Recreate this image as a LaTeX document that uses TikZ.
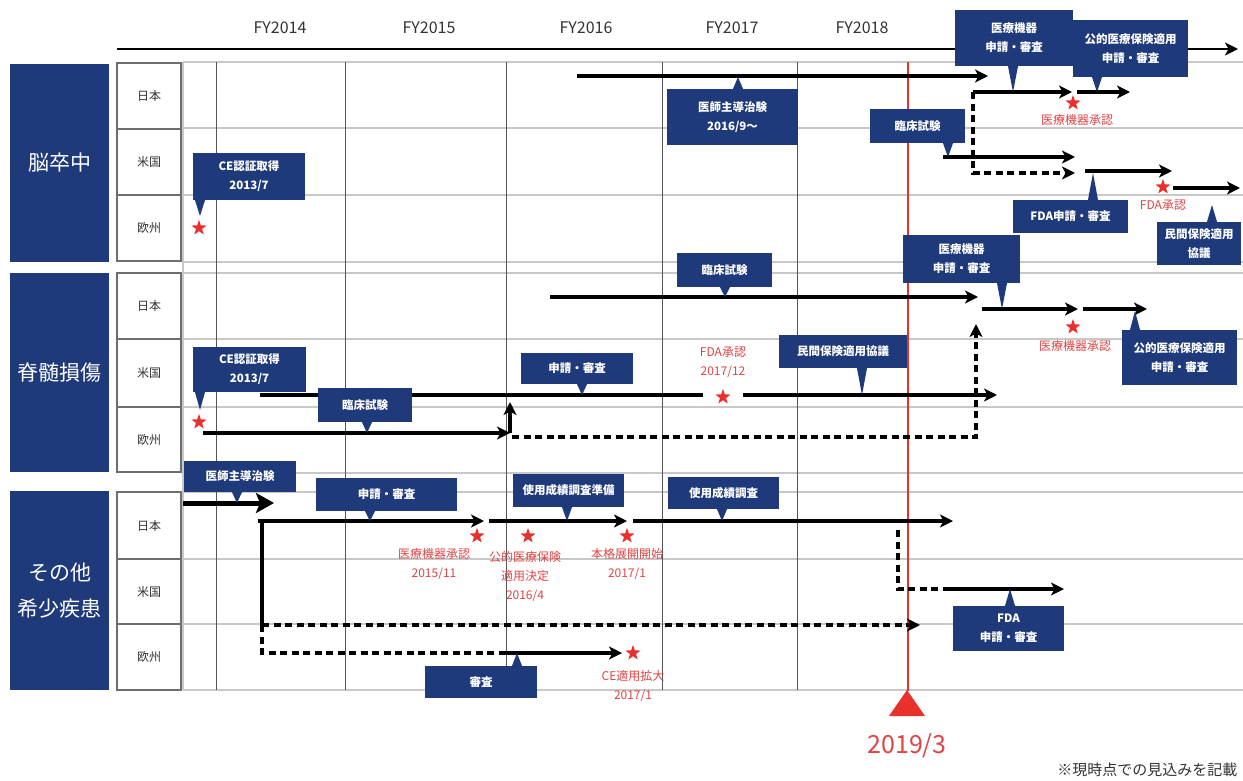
\documentclass[tikz,border=0pt]{standalone}
\usepackage{fontspec}
\setmainfont{Noto Sans CJK JP}
\usetikzlibrary{arrows.meta,shapes.geometric}
\definecolor{navy}{HTML}{1F3A7A}
\definecolor{mkred}{HTML}{E8302C}
\definecolor{lblred}{HTML}{E04545}
\definecolor{gridln}{HTML}{C8C8C8}
\definecolor{yearln}{HTML}{555555}
\definecolor{cellgray}{HTML}{6E6E6E}
\definecolor{inkgray}{HTML}{333333}
% callout tips: box, x of tip, y of tip
\newcommand\tipdown[3]{\fill[navy] (#2-5,0 |- #1.south) -- (#2+5,0 |- #1.south) -- (#2,#3) -- cycle;}
\newcommand\tipup[3]{\fill[navy] (#2-5,0 |- #1.north) -- (#2+5,0 |- #1.north) -- (#2,#3) -- cycle;}
\begin{document}
\begin{tikzpicture}[x=1pt,y=-1pt,>={Stealth[length=13pt,width=13pt,inset=3.5pt]},
    solidarr/.style={line width=3.2pt,->},
    plainln/.style={line width=3.2pt},
    dasharr/.style={line width=3.2pt,dash pattern=on 7pt off 4.5pt,->},
    dashln/.style={line width=3.2pt,dash pattern=on 7pt off 4.5pt},
    navybox/.style={fill=navy,text=white,inner sep=0pt,align=center,font=\fontsize{11.5}{19}\selectfont\bfseries},
    grouphead/.style={fill=navy,text=white,inner sep=0pt,align=center,minimum width=99pt,font=\fontsize{21}{36}\selectfont},
    rowcell/.style={draw=cellgray,line width=1.2pt,fill=white,inner sep=0pt,minimum width=64pt,text=inkgray,font=\fontsize{12}{14}\selectfont},
    yearlbl/.style={text=inkgray,font=\fontsize{16}{18}\selectfont},
    redstar/.style={star,star points=5,star point ratio=2.5,fill=mkred,inner sep=0pt,minimum size=16pt},
    redlbl/.style={text=lblred,align=center,inner sep=0pt,font=\fontsize{12}{19}\selectfont}]
    \useasboundingbox[fill=white] (0,0) rectangle (1243,780);
    % grid
    \foreach \y in {62,128,195,262,273,339,407,473,492,559,624,690}
        \draw[gridln,line width=1.5pt] (183,\y) -- (1243,\y);
    \draw[gridln,line width=1.2pt] (183,62) -- (183,690);
    \foreach \x in {216,345,506,662,797}
        \draw[yearln,line width=1pt] (\x,62) -- (\x,690);
    % groups and rows
    \node[grouphead,minimum height=198pt] (stroke) at (59.5,163) {脳卒中};
    \node[grouphead,minimum height=199pt] (spinal) at (59.5,372.5) {脊髄損傷};
    \node[grouphead,minimum height=199pt] (rare) at (59.5,590.5) {その他\\希少疾患};
    \node[rowcell,minimum height=66pt] (sjp) at (149,96) {日本};
    \node[rowcell,minimum height=66pt] (sus) at (149,162) {米国};
    \node[rowcell,minimum height=66pt] (seu) at (149,228) {欧州};
    \node[rowcell,minimum height=66pt] (mjp) at (149,306) {日本};
    \node[rowcell,minimum height=68pt] (mus) at (149,373) {米国};
    \node[rowcell,minimum height=65pt] (meu) at (149,439.5) {欧州};
    \node[rowcell,minimum height=67pt] (ojp) at (149,525.5) {日本};
    \node[rowcell,minimum height=65pt] (ous) at (149,591.5) {米国};
    \node[rowcell,minimum height=66pt] (oeu) at (149,657) {欧州};
    % years
    \node[yearlbl] (fy14) at (280,28) {FY2014};
    \node[yearlbl] (fy15) at (429,28) {FY2015};
    \node[yearlbl] (fy16) at (586,28) {FY2016};
    \node[yearlbl] (fy17) at (732,28) {FY2017};
    \node[yearlbl] (fy18) at (862,28) {FY2018};
    \coordinate (axisL) at (117,49);
    \coordinate (axisR) at (1238,49);
    \draw[line width=2.6pt,->] (axisL) -- (axisR);
    % today
    \draw[mkred,line width=2.5pt] (908,62) -- (908,691);
    \fill[mkred] (907,690) -- (925,716) -- (889,716) -- cycle;
    \node[text=lblred,font=\fontsize{25}{28}\selectfont] (nowlbl) at (907,746) {2019/3};
    \node[anchor=east,text=inkgray,font=\fontsize{15}{17}\selectfont] (note) at (1241,770) {※現時点での見込みを記載};
    % stroke
    \coordinate (sjpA) at (577,76);   \coordinate (sjpB) at (988,76);
    \coordinate (sjpC) at (973,92);   \coordinate (sjpD) at (1072,92);
    \coordinate (sjpE) at (1077,92);  \coordinate (sjpF) at (1130,92);
    \coordinate (susA) at (943,157);  \coordinate (susB) at (1075,157);
    \coordinate (susC) at (973,173);  \coordinate (susD) at (1075,173);
    \coordinate (susE) at (1085,171); \coordinate (susF) at (1172,171);
    \coordinate (susG) at (1173,188); \coordinate (susH) at (1240,188);
    \draw[solidarr] (sjpA) -- (sjpB);
    \draw[solidarr] (sjpC) -- (sjpD);
    \draw[solidarr] (sjpE) -- (sjpF);
    \draw[solidarr] (susA) -- (susB);
    \draw[dasharr] (sjpC) -- (susC) -- (susD);
    \draw[solidarr] (susE) -- (susF);
    \draw[solidarr] (susG) -- (susH);
    % spinal cord
    \coordinate (mjpA) at (550,297);  \coordinate (mjpB) at (978,297);
    \coordinate (mjpC) at (982,309);  \coordinate (mjpD) at (1078,309);
    \coordinate (mjpE) at (1083,309); \coordinate (mjpF) at (1147,309);
    \coordinate (musA) at (260,395);  \coordinate (musB) at (703,395);
    \coordinate (musC) at (743,395);  \coordinate (musD) at (997,395);
    \coordinate (meuA) at (203,433);  \coordinate (meuB) at (510,433);
    \coordinate (meuC) at (510,402);
    \coordinate (meuD) at (512,437);  \coordinate (meuE) at (976,437);
    \coordinate (meuF) at (976,324);
    \draw[solidarr] (mjpA) -- (mjpB);
    \draw[solidarr] (mjpC) -- (mjpD);
    \draw[solidarr] (mjpE) -- (mjpF);
    \draw[plainln] (musA) -- (musB);
    \draw[solidarr] (musC) -- (musD);
    \draw[solidarr] (meuA) -- (meuB);
    \draw[solidarr] (meuB) -- (meuC);
    \draw[dasharr] (meuD) -- (meuE) -- (meuF);
    % rare diseases
    \coordinate (ojpA) at (183,503);  \coordinate (ojpB) at (274,503);
    \coordinate (ojpC) at (258,521);  \coordinate (ojpD) at (484,521);
    \coordinate (ojpE) at (489,521);  \coordinate (ojpF) at (627,521);
    \coordinate (ojpG) at (633,521);  \coordinate (ojpH) at (953,521);
    \coordinate (ojpI) at (262,521);
    \coordinate (ousA) at (262,625);  \coordinate (ousB) at (920,625);
    \coordinate (oeuA) at (262,653);  \coordinate (oeuB) at (500,653);
    \coordinate (oeuC) at (622,653);
    \coordinate (ousC) at (898,530);  \coordinate (ousD) at (898,589);
    \coordinate (ousE) at (950,589);  \coordinate (ousF) at (1064,589);
    \draw[line width=5pt,-{Stealth[length=18pt,width=20pt,inset=4pt]}] (ojpA) -- (ojpB);
    \draw[solidarr] (ojpC) -- (ojpD);
    \draw[solidarr] (ojpE) -- (ojpF);
    \draw[solidarr] (ojpG) -- (ojpH);
    \draw[plainln] (ojpI) -- (ousA);
    \draw[dasharr] (ousA) -- (ousB);
    \draw[dashln] (ousA) -- (oeuA) -- (oeuB);
    \draw[solidarr] (oeuB) -- (oeuC);
    \draw[dashln] (ousC) -- (ousD) -- (ousE);
    \draw[solidarr] (ousE) -- (ousF);
    % callouts
    \node[navybox,minimum width=131pt,minimum height=56pt] (ishi1) at (732.5,117) {医師主導治験\\2016/9～};
    \node[navybox,minimum width=118pt,minimum height=56pt] (kiki1) at (1014,38) {医療機器\\申請・審査};
    \node[navybox,minimum width=115pt,minimum height=57pt] (kouteki1) at (1130.5,48.5) {公的医療保険適用\\申請・審査};
    \node[navybox,minimum width=95pt,minimum height=34pt] (rinsho1) at (917.5,126) {臨床試験};
    \node[navybox,minimum width=115pt,minimum height=33pt] (fda1) at (1070.5,216.5) {FDA申請・審査};
    \node[navybox,minimum width=84pt,minimum height=43pt] (minkan1) at (1199,243.5) {民間保険適用\\協議};
    \node[navybox,minimum width=112pt,minimum height=47pt] (ce1) at (249,176.5) {CE認証取得\\2013/7};
    \node[navybox,minimum width=95pt,minimum height=34pt] (rinsho2) at (724.5,270) {臨床試験};
    \node[navybox,minimum width=117pt,minimum height=48pt] (kiki2) at (961.5,259) {医療機器\\申請・審査};
    \node[navybox,minimum width=115pt,minimum height=55pt] (kouteki2) at (1179.5,357.5) {公的医療保険適用\\申請・審査};
    \node[navybox,minimum width=113pt,minimum height=45pt] (ce2) at (249.5,369.5) {CE認証取得\\2013/7};
    \node[navybox,minimum width=94pt,minimum height=34pt] (rinsho3) at (365,405) {臨床試験};
    \node[navybox,minimum width=112pt,minimum height=31pt] (shinsei2) at (577,368.5) {申請・審査};
    \node[navybox,minimum width=128pt,minimum height=33pt] (minkan2) at (843,351.5) {民間保険適用協議};
    \node[navybox,minimum width=112pt,minimum height=31pt] (ishi3) at (240,476.5) {医師主導治験};
    \node[navybox,minimum width=141pt,minimum height=33pt] (shinsei3) at (386.5,494.5) {申請・審査};
    \node[navybox,minimum width=111pt,minimum height=33pt] (junbi3) at (568.5,490.5) {使用成績調査準備};
    \node[navybox,minimum width=111pt,minimum height=32pt] (chosa3) at (723.5,493) {使用成績調査};
    \node[navybox,minimum width=111pt,minimum height=45pt] (fda3) at (1008.5,628.5) {FDA\\申請・審査};
    \node[navybox,minimum width=112pt,minimum height=32pt] (shinsa3) at (481,682) {審査};
    \tipup{ishi1}{738}{77}
    \tipdown{kiki1}{1013}{92}
    \tipdown{kouteki1}{1097}{92}
    \tipdown{rinsho1}{948}{157}
    \tipup{fda1}{1093}{173}
    \tipup{minkan1}{1212}{205}
    \tipdown{ce1}{200}{216}
    \tipdown{rinsho2}{725}{297}
    \tipdown{kiki2}{1002}{309}
    \tipup{kouteki2}{1135}{311}
    \tipdown{ce2}{200}{410}
    \tipdown{rinsho3}{367}{433}
    \tipdown{shinsei2}{582}{395}
    \tipdown{minkan2}{862}{395}
    \tipdown{ishi3}{237}{503}
    \tipdown{shinsei3}{370}{521}
    \tipdown{junbi3}{567}{521}
    \tipdown{chosa3}{722}{521}
    \tipup{fda3}{1010}{589}
    \tipup{shinsa3}{517}{653}
    % milestones
    \node[redstar] (ceS) at (199,228) {};
    \node[redstar] (kikiS) at (1073,103) {};
    \node[redlbl] (kikiSl) at (1077,120) {医療機器承認};
    \node[redstar] (fdaS) at (1163,187) {};
    \node[redlbl] (fdaSl) at (1163,205) {FDA承認};
    \node[redstar] (ceM) at (199,422) {};
    \node[redstar] (fdaM) at (723,397) {};
    \node[redlbl] (fdaMl) at (723,362) {FDA承認\\2017/12};
    \node[redstar] (kikiM) at (1073,327) {};
    \node[redlbl] (kikiMl) at (1075,346) {医療機器承認};
    \node[redstar] (kikiO) at (477,536) {};
    \node[redlbl] (kikiOl) at (434,564) {医療機器承認\\2015/11};
    \node[redstar] (hokenO) at (528,536) {};
    \node[redlbl] (hokenOl) at (525,577) {公的医療保険\\適用決定\\2016/4};
    \node[redstar] (tenkaiO) at (627,536) {};
    \node[redlbl] (tenkaiOl) at (627,564) {本格展開開始\\2017/1};
    \node[redstar] (ceO) at (633,653) {};
    \node[redlbl] (ceOl) at (633,686) {CE適用拡大\\2017/1};
\end{tikzpicture}
\end{document}
